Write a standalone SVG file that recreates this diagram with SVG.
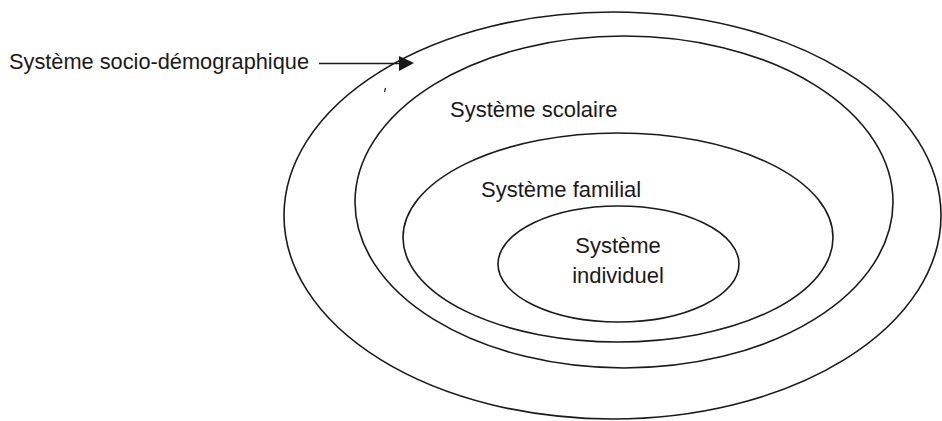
<svg xmlns="http://www.w3.org/2000/svg" width="942" height="421" viewBox="0 0 942 421">
<style>
.ring{fill:none;stroke:#1a1a1a;stroke-width:1.6}
.lbl{font-family:"Liberation Sans",Arial,sans-serif;font-size:22px;fill:#1a1a1a}
</style>
<rect width="942" height="421" fill="#fff"/>
<g id="n-socio"><ellipse class="ring" cx="612.5" cy="215.5" rx="328.5" ry="203.5"/></g>
<g id="n-scolaire"><ellipse class="ring" cx="624" cy="202" rx="269" ry="166"/><text class="lbl" x="450" y="117">Système scolaire</text></g>
<g id="n-familial"><ellipse class="ring" cx="618" cy="237.5" rx="215" ry="104.5"/><text class="lbl" x="481" y="197">Système familial</text></g>
<g id="n-individuel"><ellipse class="ring" cx="618.5" cy="264" rx="120.5" ry="58"/><text class="lbl" x="618" y="253" text-anchor="middle">Système</text><text class="lbl" x="618" y="283" text-anchor="middle">individuel</text></g>
<g id="label-socio"><text class="lbl" x="9" y="69" textLength="300" lengthAdjust="spacingAndGlyphs">Système socio-démographique</text></g>
<g id="connectors">
<line x1="319" y1="63.5" x2="400" y2="63.5" stroke="#1a1a1a" stroke-width="1.6"/>
<path d="M399,56 L414,63 L399,71 Z" fill="#1a1a1a"/>
<line x1="385.5" y1="88" x2="384.5" y2="92" stroke="#1a1a1a" stroke-width="1.2"/>
</g>
</svg>
